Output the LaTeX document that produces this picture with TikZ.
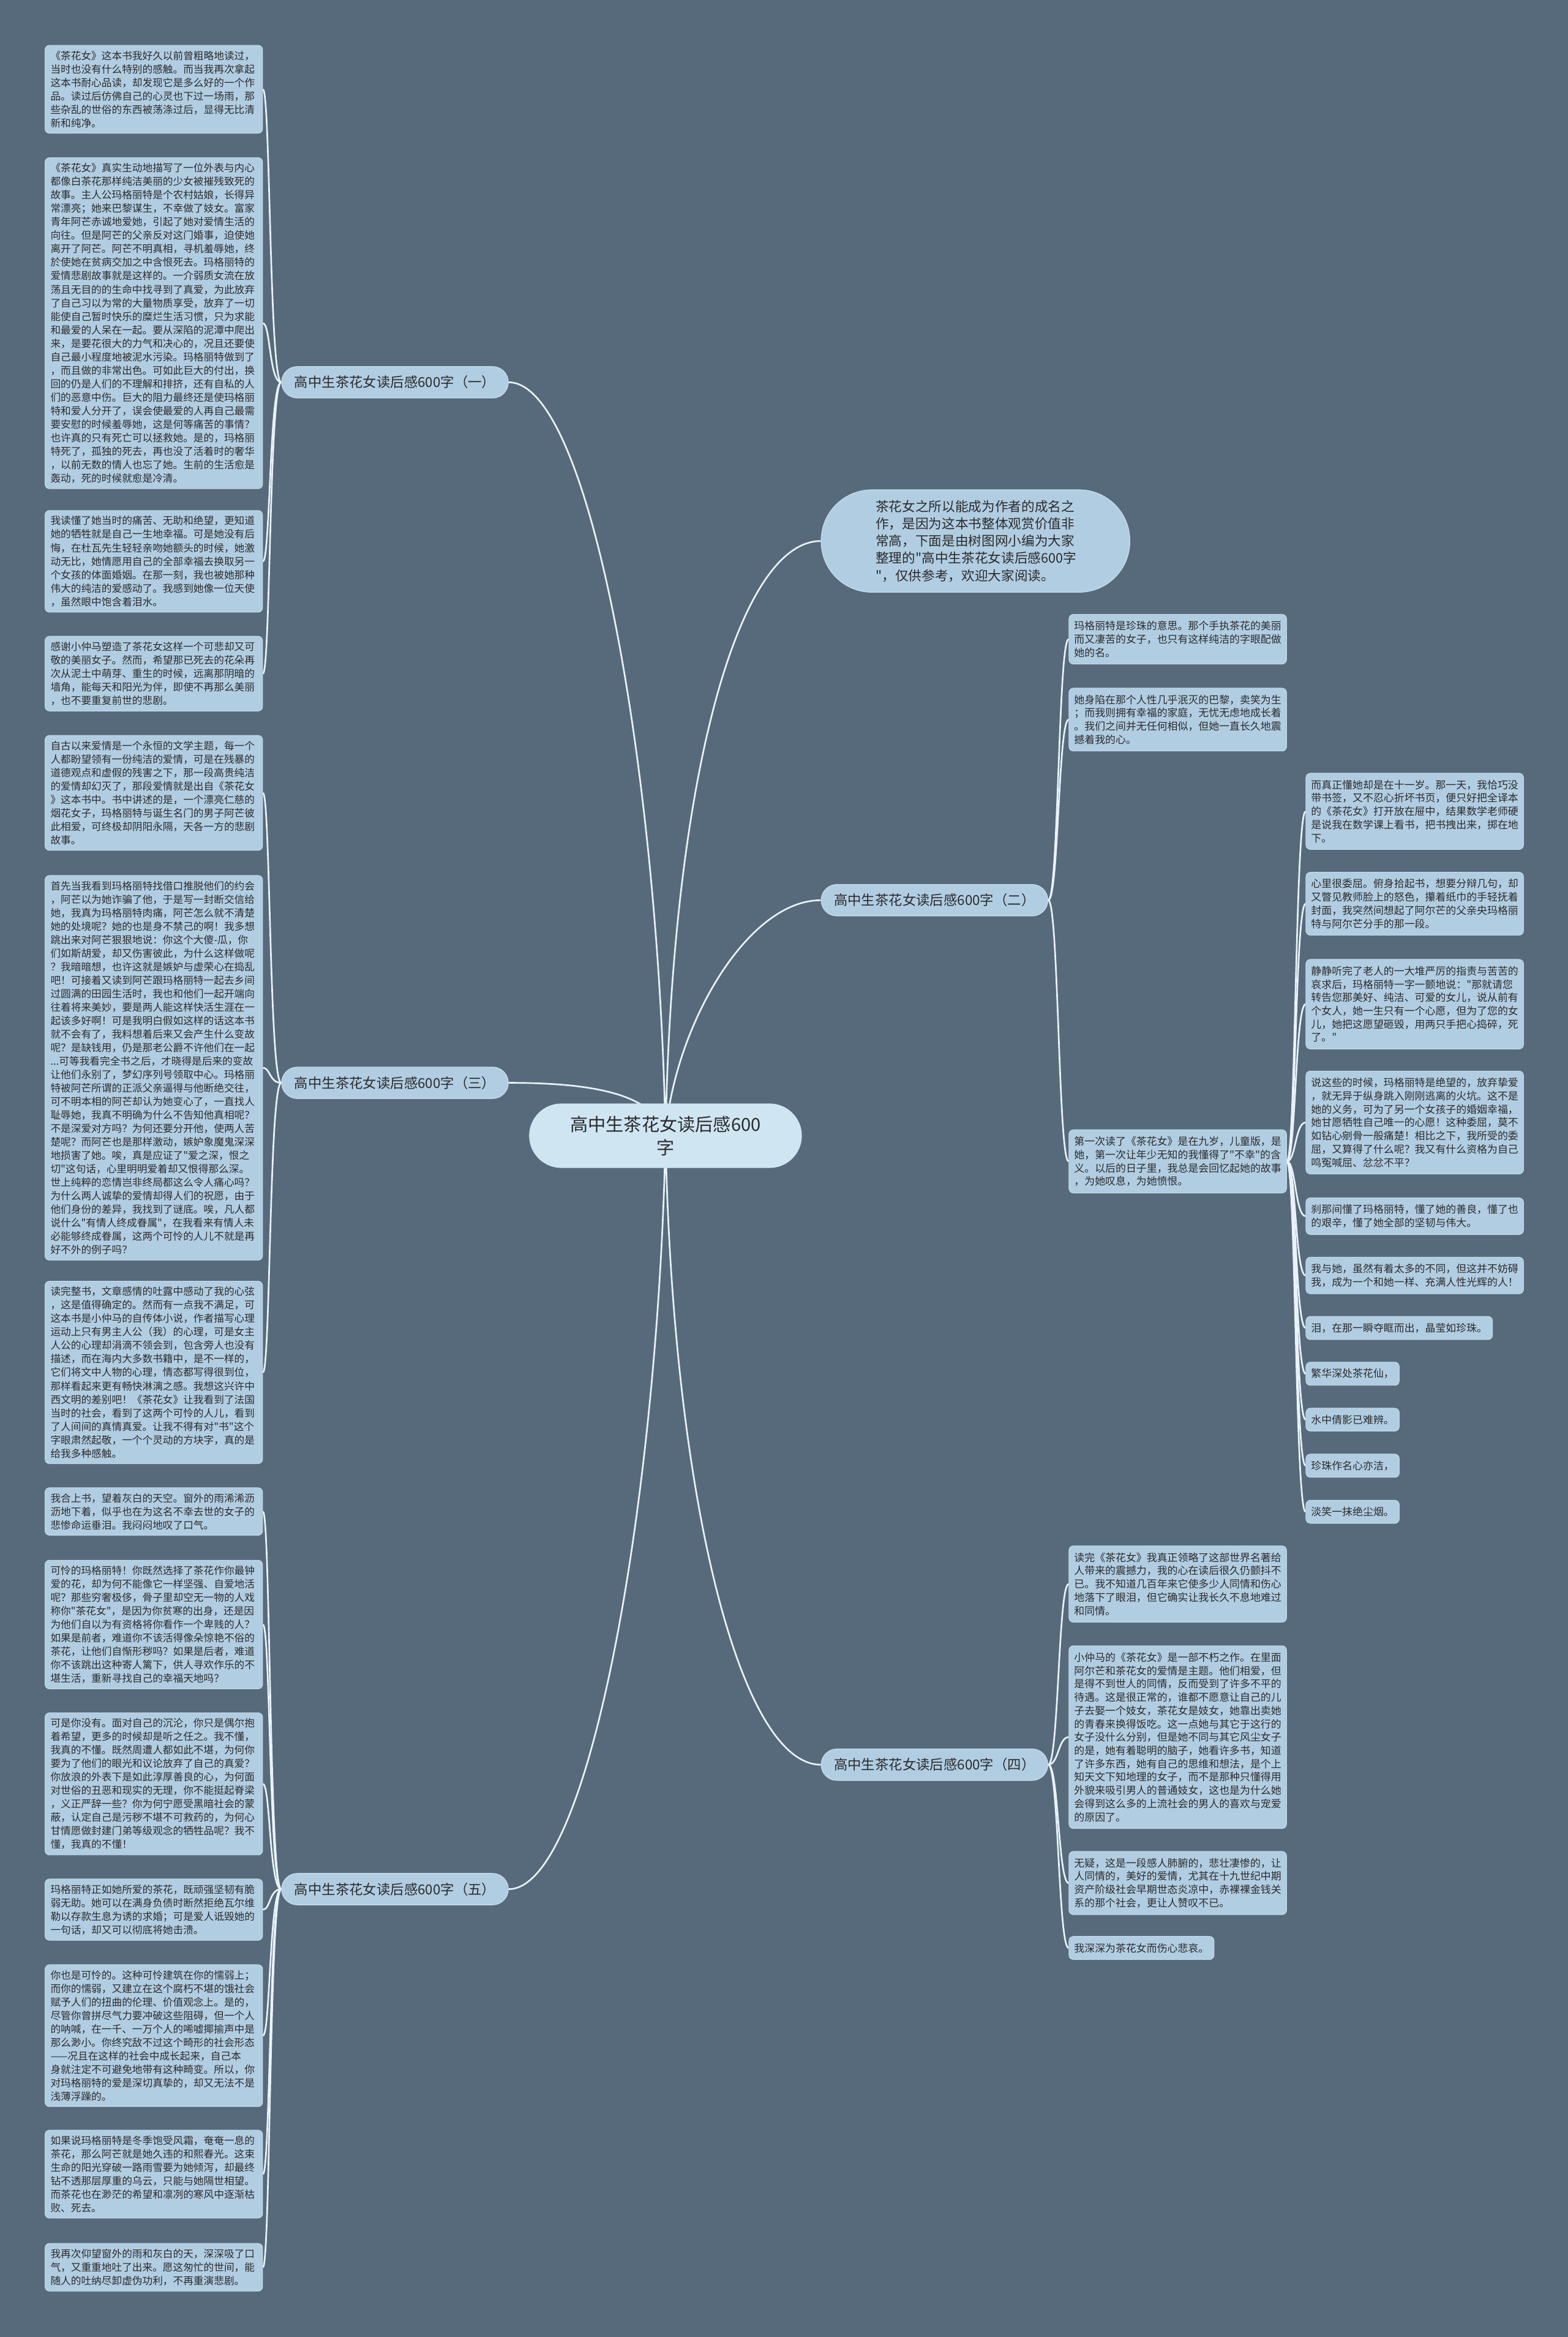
\documentclass[tikz,border=0pt]{standalone}
\usepackage{fontspec}
\setmainfont[Ligatures=TeXOff]{Noto Sans CJK SC}
\definecolor{bgc}{HTML}{566A7B}
\definecolor{boxc}{HTML}{B1CDE2}
\definecolor{boxe}{HTML}{C2DAEA}
\definecolor{mainc}{HTML}{CFE5F2}
\definecolor{linec}{HTML}{E8F2F8}
\definecolor{txt}{HTML}{2B2B2B}
\pgfdeclarelayer{bgfill}
\pgfdeclarelayer{lines}
\pgfsetlayers{bgfill,lines,main}
\tikzset{
  conn/.style={draw=linec, line width=1.1pt},
  leafbase/.style={rectangle, rounded corners=3pt, fill=boxc, draw=boxe, line width=0.4pt, text=txt, anchor=north west},
  leafL/.style={leafbase, inner xsep=3.7pt, inner ysep=3.7pt, text width=138.6pt, align=left, font=\fontsize{6.85}{9.05}\selectfont},
  leafR/.style={leafbase, inner xsep=3.5pt, inner ysep=4.5pt, text width=139pt, align=left, font=\fontsize{6.95}{8.93}\selectfont},
  leafS/.style={leafbase, inner xsep=3.5pt, inner ysep=4.5pt, font=\fontsize{6.95}{8.93}\selectfont},
  branch/.style={rectangle, rounded corners=10.5pt, fill=boxc, draw=boxe, line width=0.6pt, minimum width=152pt, minimum height=21pt, inner sep=0pt, text=txt, font=\fontsize{9.2}{11}\selectfont},
  mainn/.style={rectangle, rounded corners=21.6pt, fill=mainc, minimum width=183pt, minimum height=43.2pt, inner sep=0pt, align=center, text=txt, font=\fontsize{12}{15.6}\selectfont},
  introst/.style={rectangle, rounded corners=34pt, fill=boxc, draw=boxe, line width=0.6pt, minimum width=207pt, minimum height=68.6pt, inner sep=0pt, text width=134pt, align=left, text=txt, font=\fontsize{8.9}{11.6}\selectfont}
}
\begin{document}
\begin{tikzpicture}[x=1pt,y=-1pt]
\begin{pgfonlayer}{bgfill}
\fill[bgc] (0,0) rectangle (1052,1568);
\end{pgfonlayer}

% main and branches
\node[mainn] (m) at (446.5,762) {高中生茶花女读后感600\\字};
\node[introst] (intro) at (654.5,363) {茶花女之所以能成为作者的成名之\\作，是因为这本书整体观赏价值非\\常高，下面是由树图网小编为大家\\整理的"高中生茶花女读后感600字\\"，仅供参考，欢迎大家阅读。};
\node[branch] (b1) at (265,256.5) {高中生茶花女读后感600字（一）};
\node[branch] (b3) at (265,726.5) {高中生茶花女读后感600字（三）};
\node[branch] (b5) at (265,1267.5) {高中生茶花女读后感600字（五）};
\node[branch] (b2) at (627,604) {高中生茶花女读后感600字（二）};
\node[branch] (b4) at (627,1184) {高中生茶花女读后感600字（四）};

% left leaves
\node[leafL] (l1) at (30,30.2) {《茶花女》这本书我好久以前曾粗略地读过，\\当时也没有什么特别的感触。而当我再次拿起\\这本书耐心品读，却发现它是多么好的一个作\\品。读过后仿佛自己的心灵也下过一场雨，那\\些杂乱的世俗的东西被荡涤过后，显得无比清\\新和纯净。};
\node[leafL] (l2) at (30,105.6) {《茶花女》真实生动地描写了一位外表与内心\\都像白茶花那样纯洁美丽的少女被摧残致死的\\故事。主人公玛格丽特是个农村姑娘，长得异\\常漂亮；她来巴黎谋生，不幸做了妓女。富家\\青年阿芒赤诚地爱她，引起了她对爱情生活的\\向往。但是阿芒的父亲反对这门婚事，迫使她\\离开了阿芒。阿芒不明真相，寻机羞辱她，终\\於使她在贫病交加之中含恨死去。玛格丽特的\\爱情悲剧故事就是这样的。一介弱质女流在放\\荡且无目的的生命中找寻到了真爱，为此放弃\\了自己习以为常的大量物质享受，放弃了一切\\能使自己暂时快乐的糜烂生活习惯，只为求能\\和最爱的人呆在一起。要从深陷的泥潭中爬出\\来，是要花很大的力气和决心的，况且还要使\\自己最小程度地被泥水污染。玛格丽特做到了\\，而且做的非常出色。可如此巨大的付出，换\\回的仍是人们的不理解和排挤，还有自私的人\\们的恶意中伤。巨大的阻力最终还是使玛格丽\\特和爱人分开了，误会使最爱的人再自己最需\\要安慰的时候羞辱她，这是何等痛苦的事情？\\也许真的只有死亡可以拯救她。是的，玛格丽\\特死了，孤独的死去，再也没了活着时的奢华\\，以前无数的情人也忘了她。生前的生活愈是\\轰动，死的时候就愈是冷清。};
\node[leafL] (l3) at (30,342.3) {我读懂了她当时的痛苦、无助和绝望，更知道\\她的牺牲就是自己一生地幸福。可是她没有后\\悔，在杜瓦先生轻轻亲吻她额头的时候，她激\\动无比，她情愿用自己的全部幸福去换取另一\\个女孩的体面婚姻。在那一刻，我也被她那种\\伟大的纯洁的爱感动了。我感到她像一位天使\\，虽然眼中饱含着泪水。};
\node[leafL] (l4) at (30,426.7) {感谢小仲马塑造了茶花女这样一个可悲却又可\\敬的美丽女子。然而，希望那已死去的花朵再\\次从泥土中萌芽、重生的时候，远离那阴暗的\\墙角，能每天和阳光为伴，即使不再那么美丽\\，也不要重复前世的悲剧。};
\node[leafL] (l5) at (30,493.2) {自古以来爱情是一个永恒的文学主题，每一个\\人都盼望领有一份纯洁的爱情，可是在残暴的\\道德观点和虚假的残害之下，那一段高贵纯洁\\的爱情却幻灭了，那段爱情就是出自《茶花女\\》这本书中。书中讲述的是，一个漂亮仁慈的\\烟花女子，玛格丽特与诞生名门的男子阿芒彼\\此相爱，可终极却阴阳永隔，天各一方的悲剧\\故事。};
\node[leafL] (l6) at (30,587.2) {首先当我看到玛格丽特找借口推脱他们的约会\\，阿芒以为她诈骗了他，于是写一封断交信给\\她，我真为玛格丽特肉痛，阿芒怎么就不清楚\\她的处境呢？她的也是身不禁己的啊！我多想\\跳出来对阿芒狠狠地说：你这个大傻-瓜，你\\们如斯胡爱，却又伤害彼此，为什么这样做呢\\？我暗暗想，也许这就是嫉妒与虚荣心在捣乱\\吧！可接着又读到阿芒跟玛格丽特一起去乡间\\过圆满的田园生活时，我也和他们一起开端向\\往着将来美妙，要是两人能这样快活生涯在一\\起该多好啊！可是我明白假如这样的话这本书\\就不会有了，我料想着后来又会产生什么变故\\呢？是缺钱用，仍是那老公爵不许他们在一起\\...可等我看完全书之后，才晓得是后来的变故\\让他们永别了，梦幻序列号领取中心。玛格丽\\特被阿芒所谓的正派父亲逼得与他断绝交往，\\可不明本相的阿芒却认为她变心了，一直找人\\耻辱她，我真不明确为什么不告知他真相呢？\\不是深爱对方吗？为何还要分开他，使两人苦\\楚呢？而阿芒也是那样激动，嫉妒象魔鬼深深\\地损害了她。唉，真是应证了"爱之深，恨之\\切"这句话，心里明明爱着却又恨得那么深。\\世上纯粹的恋情岂非终局都这么令人痛心吗？\\为什么两人诚挚的爱情却得人们的祝愿，由于\\他们身份的差异，我找到了谜底。唉，凡人都\\说什么"有情人终成眷属"，在我看来有情人未\\必能够终成眷属，这两个可怜的人儿不就是再\\好不外的例子吗？};
\node[leafL] (l7) at (30,859.4) {读完整书，文章感情的吐露中感动了我的心弦\\，这是值得确定的。然而有一点我不满足，可\\这本书是小仲马的自传体小说，作者描写心理\\运动上只有男主人公（我）的心理，可是女主\\人公的心理却涓滴不领会到，包含旁人也没有\\描述，而在海内大多数书籍中，是不一样的，\\它们将文中人物的心理，情态都写得很到位，\\那样看起来更有畅快淋漓之感。我想这兴许中\\西文明的差别吧！《茶花女》让我看到了法国\\当时的社会，看到了这两个可怜的人儿，看到\\了人间间的真情真爱。让我不得有对"书"这个\\字眼肃然起敬，一个个灵动的方块字，真的是\\给我多种感触。};
\node[leafL] (l8) at (30,998) {我合上书，望着灰白的天空。窗外的雨浠浠沥\\沥地下着，似乎也在为这名不幸去世的女子的\\悲惨命运垂泪。我闷闷地叹了口气。};
\node[leafL] (l9) at (30,1046.6) {可怜的玛格丽特！你既然选择了茶花作你最钟\\爱的花，却为何不能像它一样坚强、自爱地活\\呢？那些穷奢极侈，骨子里却空无一物的人戏\\称你"茶花女"，是因为你贫寒的出身，还是因\\为他们自以为有资格将你看作一个卑贱的人？\\如果是前者，难道你不该活得像朵惊艳不俗的\\茶花，让他们自惭形秽吗？如果是后者，难道\\你不该跳出这种寄人篱下，供人寻欢作乐的不\\堪生活，重新寻找自己的幸福天地吗？};
\node[leafL] (l10) at (30,1149) {可是你没有。面对自己的沉沦，你只是偶尔抱\\着希望，更多的时候却是听之任之。我不懂，\\我真的不懂。既然周遭人都如此不堪，为何你\\要为了他们的眼光和议论放弃了自己的真爱？\\你放浪的外表下是如此淳厚善良的心，为何面\\对世俗的丑恶和现实的无理，你不能挺起脊梁\\，义正严辞一些？你为何宁愿受黑暗社会的蒙\\蔽，认定自己是污秽不堪不可救药的，为何心\\甘情愿做封建门弟等级观念的牺牲品呢？我不\\懂，我真的不懂！};
\node[leafL] (l11) at (30,1260.5) {玛格丽特正如她所爱的茶花，既顽强坚韧有脆\\弱无助。她可以在满身负债时断然拒绝瓦尔维\\勒以存款生息为诱的求婚；可是爱人诋毁她的\\一句话，却又可以彻底将她击溃。};
\node[leafL] (l12) at (30,1318) {你也是可怜的。这种可怜建筑在你的懦弱上；\\而你的懦弱，又建立在这个腐朽不堪的饿社会\\赋予人们的扭曲的伦理、价值观念上。是的，\\尽管你曾拼尽气力要冲破这些阻碍，但一个人\\的呐喊，在一千、一万个人的唏嘘揶揄声中是\\那么渺小。你终究敌不过这个畸形的社会形态\\——况且在这样的社会中成长起来，自己本\\身就注定不可避免地带有这种畸变。所以，你\\对玛格丽特的爱是深切真挚的，却又无法不是\\浅薄浮躁的。};
\node[leafL] (l13) at (30,1429) {如果说玛格丽特是冬季饱受风霜，奄奄一息的\\茶花，那么阿芒就是她久违的和熙春光。这束\\生命的阳光穿破一路雨雪要为她倾泻，却最终\\钻不透那层厚重的乌云，只能与她隔世相望。\\而茶花也在渺茫的希望和凛冽的寒风中逐渐枯\\败、死去。};
\node[leafL] (l14) at (30,1505) {我再次仰望窗外的雨和灰白的天，深深吸了口\\气，又重重地吐了出来。愿这匆忙的世间，能\\随人的吐纳尽卸虚伪功利，不再重演悲剧。};

% right column A
\node[leafR] (a1) at (717,412) {玛格丽特是珍珠的意思。那个手执茶花的美丽\\而又凄苦的女子，也只有这样纯洁的字眼配做\\她的名。};
\node[leafR] (a2) at (717,461.5) {她身陷在那个人性几乎泯灭的巴黎，卖笑为生\\；而我则拥有幸福的家庭，无忧无虑地成长着\\。我们之间并无任何相似，但她一直长久地震\\撼着我的心。};
\node[leafR] (a3) at (717,757.8) {第一次读了《茶花女》是在九岁，儿童版，是\\她，第一次让年少无知的我懂得了"不幸"的含\\义。以后的日子里，我总是会回忆起她的故事\\，为她叹息，为她愤恨。};
\node[leafR] (a4) at (717,1037) {读完《茶花女》我真正领略了这部世界名著给\\人带来的震撼力，我的心在读后很久仍颤抖不\\已。我不知道几百年来它使多少人同情和伤心\\地落下了眼泪，但它确实让我长久不息地难过\\和同情。};
\node[leafR] (a5) at (717,1104) {小仲马的《茶花女》是一部不朽之作。在里面\\阿尔芒和茶花女的爱情是主题。他们相爱，但\\是得不到世人的同情，反而受到了许多不平的\\待遇。这是很正常的，谁都不愿意让自己的儿\\子去娶一个妓女，茶花女是妓女，她靠出卖她\\的青春来换得饭吃。这一点她与其它于这行的\\女子没什么分别，但是她不同与其它风尘女子\\的是，她有着聪明的脑子，她看许多书，知道\\了许多东西，她有自己的思维和想法，是个上\\知天文下知地理的女子，而不是那种只懂得用\\外貌来吸引男人的普通妓女，这也是为什么她\\会得到这么多的上流社会的男人的喜欢与宠爱\\的原因了。};
\node[leafR] (a6) at (717,1242) {无疑，这是一段感人肺腑的，悲壮凄惨的，让\\人同情的，美好的爱情，尤其在十九世纪中期\\资产阶级社会早期世态炎凉中，赤裸裸金钱关\\系的那个社会，更让人赞叹不已。};
\node[leafS] (a7) at (717,1299) {我深深为茶花女而伤心悲哀。};

% right column B
\node[leafR] (c1) at (876,518.6) {而真正懂她却是在十一岁。那一天，我恰巧没\\带书签，又不忍心折坏书页，便只好把全译本\\的《茶花女》打开放在屉中，结果数学老师硬\\是说我在数学课上看书，把书拽出来，掷在地\\下。};
\node[leafR] (c2) at (876,585) {心里很委屈。俯身拾起书，想要分辩几句，却\\又瞥见教师脸上的怒色，攥着纸巾的手轻抚着\\封面，我突然间想起了阿尔芒的父亲央玛格丽\\特与阿尔芒分手的那一段。};
\node[leafR] (c3) at (876,643.5) {静静听完了老人的一大堆严厉的指责与苦苦的\\哀求后，玛格丽特一字一颤地说："那就请您\\转告您那美好、纯洁、可爱的女儿，说从前有\\个女人，她一生只有一个心愿，但为了您的女\\儿，她把这愿望砸毁，用两只手把心捣碎，死\\了。"};
\node[leafR] (c4) at (876,718.4) {说这些的时候，玛格丽特是绝望的，放弃挚爱\\，就无异于纵身跳入刚刚逃离的火坑。这不是\\她的义务，可为了另一个女孩子的婚姻幸福，\\她甘愿牺牲自己唯一的心愿！这种委屈，莫不\\如钻心剜骨一般痛楚！相比之下，我所受的委\\屈，又算得了什么呢？我又有什么资格为自己\\鸣冤喊屈、忿忿不平？};
\node[leafR] (c5) at (876,803.5) {刹那间懂了玛格丽特，懂了她的善良，懂了也\\的艰辛，懂了她全部的坚韧与伟大。};
\node[leafR] (c6) at (876,843.3) {我与她，虽然有着太多的不同，但这并不妨碍\\我，成为一个和她一样、充满人性光辉的人！};
\node[leafS] (c7) at (876,883) {泪，在那一瞬夺眶而出，晶莹如珍珠。};
\node[leafS] (c8) at (876,913.7) {繁华深处茶花仙，};
\node[leafS] (c9) at (876,944.6) {水中倩影已难辨。};
\node[leafS] (c10) at (876,975.4) {珍珠作名心亦洁，};
\node[leafS] (c11) at (876,1006.4) {淡笑一抹绝尘烟。};

\begin{pgfonlayer}{lines}
% main connectors
\draw[conn] (m.center) .. controls (442,520) and +(55,0) .. (b1.east);
\draw[conn] (m.center) .. controls (440,735) and +(60,0) .. (b3.east);
\draw[conn] (m.center) .. controls (442,1000) and +(55,0) .. (b5.east);
\draw[conn] (m.center) .. controls (451,520) and +(-55,0) .. (intro.west);
\draw[conn] (m.center) .. controls (452,690) and +(-50,0) .. (b2.west);
\draw[conn] (m.center) .. controls (451,1000) and +(-55,0) .. (b4.west);
% left leaves
\foreach \c in {l1,l2,l3,l4}{\draw[conn] (b1.west) .. controls +(-8,0) and +(5,0) .. (\c.east);}
\foreach \c in {l5,l6,l7}{\draw[conn] (b3.west) .. controls +(-8,0) and +(5,0) .. (\c.east);}
\foreach \c in {l8,l9,l10,l11,l12,l13,l14}{\draw[conn] (b5.west) .. controls +(-8,0) and +(5,0) .. (\c.east);}
% right leaves
\foreach \c in {a1,a2,a3}{\draw[conn] (b2.east) .. controls +(7,0) and +(-7,0) .. (\c.west);}
\foreach \c in {a4,a5,a6,a7}{\draw[conn] (b4.east) .. controls +(7,0) and +(-7,0) .. (\c.west);}
\foreach \c in {c1,c2,c3,c4,c5,c6,c7,c8,c9,c10,c11}{\draw[conn] (a3.east) .. controls +(6,0) and +(-7,0) .. (\c.west);}
\end{pgfonlayer}
\end{tikzpicture}
\end{document}
